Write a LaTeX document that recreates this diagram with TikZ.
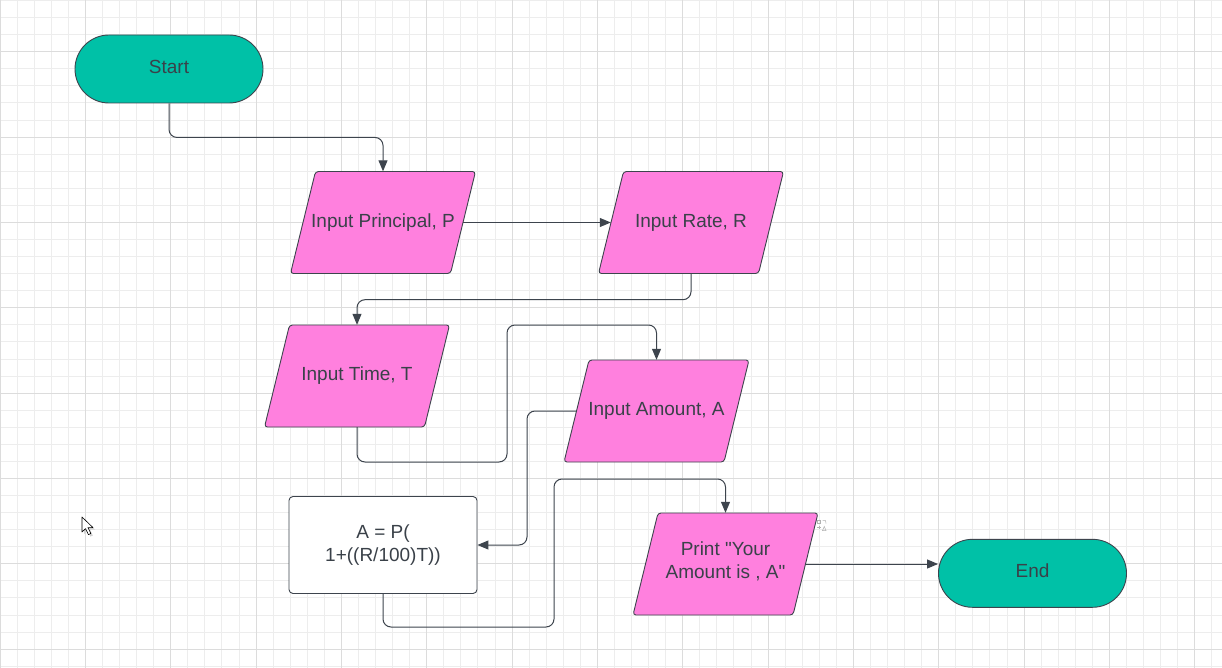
\documentclass[tikz,border=0pt]{standalone}
\usepackage{fontspec}
\setmainfont{Liberation Sans}[Ligatures=TeXOff]
\usetikzlibrary{arrows.meta,calc}
\definecolor{tealfill}{HTML}{00C1A7}
\definecolor{pinkfill}{HTML}{FF80DE}
\definecolor{edgecol}{HTML}{3D444D}
\definecolor{txtcol}{HTML}{3A4149}
\definecolor{gminor}{HTML}{EDEDED}
\definecolor{gmajor}{HTML}{DCDCDC}
\newcommand{\lbl}{\fontsize{19}{23}\selectfont}
\tikzset{
  termbox/.style={draw=edgecol, fill=tealfill, rounded corners=34pt, minimum width=188pt,
    minimum height=68pt, line width=0.9pt, text=txtcol, font=\lbl, inner sep=0pt,
    text height=14pt, text depth=5pt},
  ioshape/.style={draw=edgecol, fill=pinkfill, rounded corners=3pt, line width=0.9pt},
  ioanchor/.style={minimum width=160pt, minimum height=102pt, inner sep=0pt},
  iotext/.style={text=txtcol, font=\lbl, align=center, inner sep=0pt},
  procbox/.style={draw=edgecol, fill=white, rounded corners=4pt, minimum width=188pt,
    minimum height=97pt, line width=0.9pt, text=txtcol, font=\lbl, align=center, inner sep=0pt},
  conn/.style={draw=edgecol, line width=1pt, rounded corners=8pt,
    -{Triangle[length=11pt,width=9pt]}},
  gridminor/.style={draw=gminor, line width=0.8pt},
  gridmajor/.style={draw=gmajor, line width=0.9pt},
}
% parallelogram (input/output) box: name, x, y, text shift, text
\newcommand{\ionode}[5]{%
  \draw[ioshape] (#2-67.5,#3-51) -- (#2+92.5,#3-51) -- (#2+67.5,#3+51)
    -- (#2-92.5,#3+51) -- cycle;
  \node[ioanchor] (#1) at (#2,#3) {};
  \node[iotext, yshift=#4] (#1-t) at (#2,#3) {#5};
}
\begin{document}
\begin{tikzpicture}[x=1pt,y=-1pt]
\useasboundingbox (0,0) rectangle (1222,668);
\fill[white] (0,0) rectangle (1222,668);
% grid
\foreach \i in {0,...,71} {\draw[gridminor] (\i*17.0667,0) -- (\i*17.0667,668);}
\foreach \j in {0,...,39} {\draw[gridminor] (0,0.5+\j*17.0667) -- (1222,0.5+\j*17.0667);}
\foreach \i in {0,...,14} {\draw[gridmajor] (\i*85.333,0) -- (\i*85.333,668);}
\foreach \j in {0,...,7} {\draw[gridmajor] (0,51.7+\j*85.333) -- (1222,51.7+\j*85.333);}

% nodes
\node[termbox] (start) at (169,69) {Start};
\ionode{principal}{383}{222.5}{0pt}{Input Principal, P}
\ionode{rate}{691}{222.5}{0pt}{Input Rate, R}
\ionode{time}{357}{376}{0pt}{Input Time, T}
\ionode{amount}{656.5}{411}{0pt}{Input Amount, A}
\node[procbox] (formula) at (383,545) {A = P(\\1+((R/100)T))};
\ionode{print}{725.5}{564}{3pt}{Print "Your\\Amount is , A"}
\node[termbox] (end) at (1032.5,573.3) {End};

% bend points
\coordinate (k1) at (507,462);
\coordinate (k2) at (507,325);
\coordinate (k3) at (527,411);
\coordinate (k4) at (554,627);
\coordinate (k5) at (554,479);

% connectors
\draw[conn] (start.south) -- ++(0,34) -| (principal.north);
\draw[conn] (principal.east) -- (rate.west);
\draw[conn] (rate.south) -- ++(0,26) -| (time.north);
\draw[conn] (time.south) |- (k1) -- (k2) -| (amount.north);
\draw[conn] (amount.west) -- (k3) |- (formula.east);
\draw[conn] (formula.south) |- (k4) -- (k5) -| (print.north);
\draw[conn] (print.east) -- (end.west |- print.east);

% small shape icon near the print box
\begin{scope}[draw=gray!60, line width=0.5pt]
\draw (817,520) rectangle (820.5,523.5);
\draw (822.5,520.5) -- (825.5,520.5) -- (826,523.5);
\draw (817,527.5) -- (820.5,527.5) (818.75,525.75) -- (818.75,529.25);
\draw (822.5,530.5) -- (824.25,526.5) -- (826,530.5) -- cycle;
\end{scope}

% mouse cursor
\fill[gray!35] (84,519) -- ++(0,15) -- ++(3.6,-3.4) -- ++(2.8,6) -- ++(2.4,-1.1) -- ++(-2.8,-5.9) -- ++(5,0) -- cycle;
\draw[fill=white, draw=black, line width=0.6pt, line join=round]
  (82,517) -- ++(0,15) -- ++(3.6,-3.4) -- ++(2.8,6) -- ++(2.4,-1.1) -- ++(-2.8,-5.9) -- ++(5,0) -- cycle;
\end{tikzpicture}
\end{document}
